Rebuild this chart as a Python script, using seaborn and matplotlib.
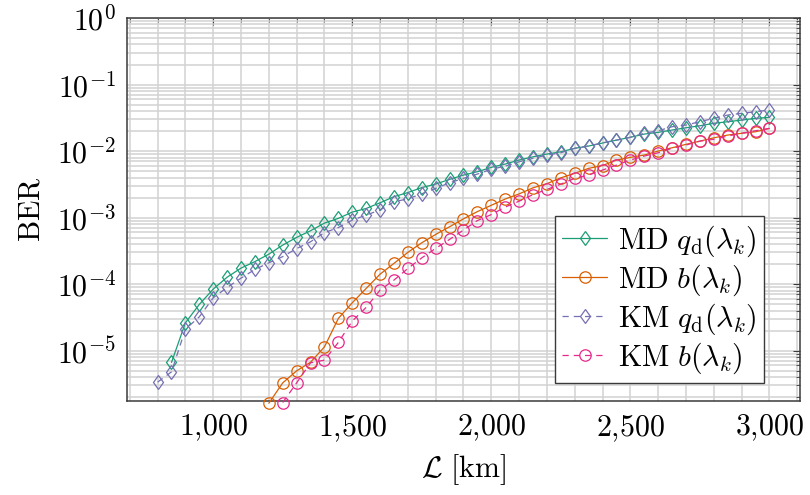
import math
import matplotlib
matplotlib.use("Agg")
import matplotlib.pyplot as plt
from matplotlib.markers import MarkerStyle
from matplotlib.transforms import Affine2D
from matplotlib.ticker import MultipleLocator, LogLocator, FuncFormatter, NullFormatter
import pandas as pd
import seaborn as sns

# ---- data: bit error rate vs. link length ----
md_q_km = [850, 900, 950, 1000, 1050, 1100, 1150, 1200, 1250, 1300, 1350, 1400,
           1450, 1500, 1550, 1600, 1650, 1700, 1750, 1800, 1850, 1900, 1950, 2000,
           2050, 2100, 2150, 2200, 2250, 2300, 2350, 2400, 2450, 2500, 2550, 2600,
           2650, 2700, 2750, 2800, 2850, 2900, 2950, 3000]
md_q_ber = [6.65e-6, 2.62e-5, 4.95e-5, 8.41e-5, 1.27e-4, 1.74e-4, 2.18e-4, 2.82e-4,
            3.86e-4, 5.04e-4, 6.34e-4, 8.26e-4, 9.73e-4, 1.21e-3, 1.37e-3, 1.67e-3,
            2.06e-3, 2.38e-3, 2.82e-3, 3.19e-3, 3.75e-3, 4.36e-3, 4.89e-3, 5.69e-3,
            6.38e-3, 7.32e-3, 8.20e-3, 9.01e-3, 9.75e-3, 1.10e-2, 1.19e-2, 1.32e-2,
            1.46e-2, 1.61e-2, 1.80e-2, 1.91e-2, 2.07e-2, 2.24e-2, 2.40e-2, 2.61e-2,
            2.76e-2, 2.92e-2, 3.10e-2, 3.21e-2]

md_b_km = [1200, 1250, 1300, 1350, 1400, 1450, 1500, 1550, 1600, 1650, 1700, 1750,
           1800, 1850, 1900, 1950, 2000, 2050, 2100, 2150, 2200, 2250, 2300, 2350,
           2400, 2450, 2500, 2550, 2600, 2650, 2700, 2750, 2800, 2850, 2900, 2950, 3000]
md_b_ber = [1.62e-6, 3.28e-6, 4.97e-6, 6.7e-6, 1.14e-5, 3.05e-5, 5.24e-5, 8.61e-5,
            1.41e-4, 2.05e-4, 3.00e-4, 4.18e-4, 5.58e-4, 7.28e-4, 9.59e-4, 1.23e-3,
            1.53e-3, 1.90e-3, 2.27e-3, 2.80e-3, 3.24e-3, 3.96e-3, 4.62e-3, 5.50e-3,
            6.05e-3, 7.32e-3, 8.04e-3, 8.71e-3, 1.00e-2, 1.12e-2, 1.26e-2, 1.41e-2,
            1.58e-2, 1.74e-2, 1.85e-2, 1.95e-2, 2.19e-2]

km_q_km = [800, 850, 900, 950, 1000, 1050, 1100, 1150, 1200, 1250, 1300, 1350, 1400,
           1450, 1500, 1550, 1600, 1650, 1700, 1750, 1800, 1850, 1900, 1950, 2000,
           2050, 2100, 2150, 2200, 2250, 2300, 2350, 2400, 2450, 2500, 2550, 2600,
           2650, 2700, 2750, 2800, 2850, 2900, 2950, 3000]
km_q_ber = [3.36e-6, 4.80e-6, 2.10e-5, 3.22e-5, 6.22e-5, 8.91e-5, 1.23e-4, 1.66e-4,
            2.09e-4, 2.59e-4, 3.42e-4, 4.33e-4, 5.94e-4, 7.08e-4, 9.17e-4, 1.09e-3,
            1.30e-3, 1.73e-3, 1.91e-3, 2.28e-3, 2.75e-3, 3.33e-3, 3.89e-3, 4.51e-3,
            5.31e-3, 5.94e-3, 6.90e-3, 7.76e-3, 8.71e-3, 9.42e-3, 1.10e-2, 1.19e-2,
            1.33e-2, 1.46e-2, 1.61e-2, 1.85e-2, 2.02e-2, 2.32e-2, 2.46e-2, 2.76e-2,
            3.10e-2, 3.48e-2, 3.69e-2, 3.90e-2, 4.14e-2]

km_b_km = [1250, 1300, 1350, 1400, 1450, 1500, 1550, 1600, 1650, 1700, 1750, 1800,
           1850, 1900, 1950, 2000, 2050, 2100, 2150, 2200, 2250, 2300, 2350, 2400,
           2450, 2500, 2550, 2600, 2650, 2700, 2750, 2800, 2850, 2900, 2950, 3000]
km_b_ber = [1.66e-6, 3.28e-6, 6.56e-6, 7.2e-6, 1.33e-5, 2.78e-5, 4.47e-5, 8.13e-5,
            1.15e-4, 1.72e-4, 2.48e-4, 3.44e-4, 4.70e-4, 6.49e-4, 9.02e-4, 1.11e-3,
            1.44e-3, 1.76e-3, 2.22e-3, 2.65e-3, 3.19e-3, 3.89e-3, 4.36e-3, 5.18e-3,
            6.15e-3, 7.32e-3, 8.41e-3, 9.42e-3, 1.10e-2, 1.23e-2, 1.41e-2, 1.50e-2,
            1.68e-2, 1.85e-2, 2.02e-2, 2.19e-2]

x_ticks = [1000, 1500, 2000, 2500, 3000]
y_ticks = [1e-5, 1e-4, 1e-3, 1e-2, 1e-1, 1e0]

# slightly narrowed diamond, like the TikZ "diamond" mark
diamond = MarkerStyle("D", transform=Affine2D().scale(0.8, 1.0))
dashed = (0, (5, 4))

series = [
    (r"$\mathrm{MD}\ q_{\mathrm{d}}(\lambda_k)$", md_q_km, md_q_ber, "#1b9e77", diamond, "-"),
    (r"$\mathrm{MD}\ b(\lambda_k)$", md_b_km, md_b_ber, "#d95f02", "o", "-"),
    (r"$\mathrm{KM}\ q_{\mathrm{d}}(\lambda_k)$", km_q_km, km_q_ber, "#7570b3", diamond, dashed),
    (r"$\mathrm{KM}\ b(\lambda_k)$", km_b_km, km_b_ber, "#e7298a", "o", dashed),
]

sns.set_theme(style="white")
plt.rcParams.update({
    "font.family": ["DejaVu Serif"],
    "mathtext.fontset": "cm",
    "font.size": 21.5,
    "axes.unicode_minus": True,
    "text.color": "black",
    "axes.labelcolor": "black",
    "xtick.color": "#3a3a3a",
    "ytick.color": "#3a3a3a",
    "xtick.labelcolor": "black",
    "ytick.labelcolor": "black",
})

fig = plt.figure(figsize=(8.1, 4.95), dpi=100)
ax = fig.add_axes([127 / 810, 1 - 401 / 495, 673 / 810, 383 / 495])

for label, xs, ys, color, marker, ls in series:
    df = pd.DataFrame({"length": xs, "ber": ys})
    msize = 8.2 if marker == "o" else 7.0
    sns.lineplot(data=df, x="length", y="ber", ax=ax, label=label, color=color,
                 marker=marker, markersize=msize, markerfacecolor="none",
                 markeredgecolor=color, markeredgewidth=0.9, linewidth=0.9,
                 linestyle=ls, errorbar=None, clip_on=False, zorder=3)

ax.set_yscale("log")
ax.set_xlim(690, 3110)

ax.set_xticks(x_ticks)
ax.xaxis.set_minor_locator(MultipleLocator(100))
ax.xaxis.set_major_formatter(FuncFormatter(
    lambda v, p: r"$%d{,}%03d$" % (int(v) // 1000, int(v) % 1000)))
ax.set_yticks(y_ticks)
ax.yaxis.set_minor_locator(LogLocator(base=10, subs=range(2, 10), numticks=20))
ax.yaxis.set_minor_formatter(NullFormatter())
ax.yaxis.set_major_formatter(FuncFormatter(lambda v, p: r"$10^{%d}$" % round(math.log10(v))))
ax.set_ylim(1.75e-6, 1.0)

ax.grid(which="both", color="#d2d2d2", linewidth=1.1, zorder=0)
ax.set_axisbelow(True)

for side in ax.spines.values():
    side.set_color("#3a3a3a")
    side.set_linewidth(1.1)

ax.tick_params(which="both", direction="in", top=True, right=True, labelsize=21.5)
ax.tick_params(which="major", length=5, width=0.8, pad=8)
ax.tick_params(which="minor", length=3, width=0.6)

ax.set_xlabel(r"$\mathcal{L}\ [\mathrm{km}]$", fontsize=21.5, labelpad=6)
ax.set_ylabel(r"$\mathrm{BER}$", fontsize=21.5, labelpad=8)

leg = ax.legend(loc="lower right", bbox_to_anchor=(0.946, 0.046), frameon=True,
                fancybox=False, framealpha=1.0, edgecolor="#3a3a3a",
                fontsize=21.5, handlelength=1.5, handletextpad=0.35,
                labelspacing=0.12, borderpad=0.25, borderaxespad=0.0)
leg.get_frame().set_linewidth(1.0)
leg.set_zorder(5)

fig.savefig("out.png", dpi=100)
